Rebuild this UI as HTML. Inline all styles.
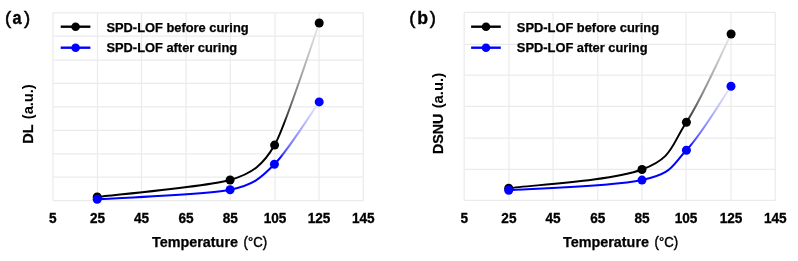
<!DOCTYPE html>
<html><head><meta charset="utf-8"><style>
html,body{margin:0;padding:0;background:#fff;}
svg{display:block;filter:blur(0.3px);}
text{font-family:"Liberation Sans",sans-serif;font-weight:bold;fill:#000;}
</style></head><body>
<svg width="798" height="261" viewBox="0 0 798 261">
<rect width="798" height="261" fill="#fff"/>
<g stroke="#ebebeb" stroke-width="1.2">
<line x1="52.90" y1="12.80" x2="52.90" y2="200.60"/>
<line x1="97.50" y1="12.80" x2="97.50" y2="200.60"/>
<line x1="141.50" y1="12.80" x2="141.50" y2="200.60"/>
<line x1="186.10" y1="12.80" x2="186.10" y2="200.60"/>
<line x1="230.30" y1="12.80" x2="230.30" y2="200.60"/>
<line x1="275.00" y1="12.80" x2="275.00" y2="200.60"/>
<line x1="319.00" y1="12.80" x2="319.00" y2="200.60"/>
<line x1="363.30" y1="12.80" x2="363.30" y2="200.60"/>
<line x1="52.90" y1="12.80" x2="363.30" y2="12.80"/>
<line x1="52.90" y1="36.10" x2="363.30" y2="36.10"/>
<line x1="52.90" y1="60.10" x2="363.30" y2="60.10"/>
<line x1="52.90" y1="83.30" x2="363.30" y2="83.30"/>
<line x1="52.90" y1="106.80" x2="363.30" y2="106.80"/>
<line x1="52.90" y1="130.40" x2="363.30" y2="130.40"/>
<line x1="52.90" y1="153.80" x2="363.30" y2="153.80"/>
<line x1="52.90" y1="177.20" x2="363.30" y2="177.20"/>
<line x1="52.90" y1="200.60" x2="363.30" y2="200.60"/>
</g>
<linearGradient id="gl0" gradientUnits="userSpaceOnUse" x1="319.20" y1="197.00" x2="319.20" y2="23.00"><stop offset="0" stop-color="#000000"/><stop offset="0.42" stop-color="#000000"/><stop offset="0.468" stop-color="#444444"/><stop offset="0.517" stop-color="#606060"/><stop offset="0.565" stop-color="#767676"/><stop offset="0.613" stop-color="#888888"/><stop offset="0.662" stop-color="#989898"/><stop offset="0.710" stop-color="#a6a6a6"/><stop offset="0.758" stop-color="#b3b3b3"/><stop offset="0.807" stop-color="#c0c0c0"/><stop offset="0.855" stop-color="#cccccc"/><stop offset="0.903" stop-color="#d7d7d7"/><stop offset="0.952" stop-color="#e1e1e1"/><stop offset="1.000" stop-color="#ebebeb"/></linearGradient>
<path d="M97.20,197.00 C113.81,194.88 207.92,186.49 230.10,180.00 C252.28,173.51 263.46,164.72 274.60,145.10 C285.74,125.47 313.62,38.26 319.20,23.00" fill="none" stroke="url(#gl0)" stroke-width="2.0"/>
<linearGradient id="gl1" gradientUnits="userSpaceOnUse" x1="319.20" y1="199.30" x2="319.20" y2="101.90"><stop offset="0" stop-color="#0000ff"/><stop offset="0.42" stop-color="#0000ff"/><stop offset="0.468" stop-color="#4444ff"/><stop offset="0.517" stop-color="#6060ff"/><stop offset="0.565" stop-color="#7676ff"/><stop offset="0.613" stop-color="#8888ff"/><stop offset="0.662" stop-color="#9898ff"/><stop offset="0.710" stop-color="#a6a6ff"/><stop offset="0.758" stop-color="#b3b3ff"/><stop offset="0.807" stop-color="#c0c0ff"/><stop offset="0.855" stop-color="#ccccff"/><stop offset="0.903" stop-color="#d7d7ff"/><stop offset="0.952" stop-color="#e1e1ff"/><stop offset="1.000" stop-color="#ebebff"/></linearGradient>
<path d="M97.20,199.30 C116.03,197.94 205.00,194.66 230.10,189.70 C255.20,184.74 261.78,176.74 274.40,164.30 C287.02,151.86 312.85,110.74 319.20,101.90" fill="none" stroke="url(#gl1)" stroke-width="2.0"/>
<circle cx="97.20" cy="197.00" r="4.5" fill="#000000"/>
<circle cx="230.10" cy="180.00" r="4.5" fill="#000000"/>
<circle cx="274.60" cy="145.10" r="4.5" fill="#000000"/>
<circle cx="319.20" cy="23.00" r="4.5" fill="#000000"/>
<circle cx="97.20" cy="199.30" r="4.5" fill="#0000ff"/>
<circle cx="230.10" cy="189.70" r="4.5" fill="#0000ff"/>
<circle cx="274.40" cy="164.30" r="4.5" fill="#0000ff"/>
<circle cx="319.20" cy="101.90" r="4.5" fill="#0000ff"/>
<g stroke="#ebebeb" stroke-width="1.2">
<line x1="464.20" y1="12.30" x2="464.20" y2="200.40"/>
<line x1="508.90" y1="12.30" x2="508.90" y2="200.40"/>
<line x1="553.05" y1="12.30" x2="553.05" y2="200.40"/>
<line x1="597.80" y1="12.30" x2="597.80" y2="200.40"/>
<line x1="642.05" y1="12.30" x2="642.05" y2="200.40"/>
<line x1="686.00" y1="12.30" x2="686.00" y2="200.40"/>
<line x1="731.00" y1="12.30" x2="731.00" y2="200.40"/>
<line x1="775.30" y1="12.30" x2="775.30" y2="200.40"/>
<line x1="464.20" y1="12.30" x2="775.30" y2="12.30"/>
<line x1="464.20" y1="44.30" x2="775.30" y2="44.30"/>
<line x1="464.20" y1="75.10" x2="775.30" y2="75.10"/>
<line x1="464.20" y1="106.40" x2="775.30" y2="106.40"/>
<line x1="464.20" y1="138.20" x2="775.30" y2="138.20"/>
<line x1="464.20" y1="169.40" x2="775.30" y2="169.40"/>
<line x1="464.20" y1="200.40" x2="775.30" y2="200.40"/>
</g>
<linearGradient id="gr0" gradientUnits="userSpaceOnUse" x1="731.10" y1="188.30" x2="731.10" y2="34.00"><stop offset="0" stop-color="#000000"/><stop offset="0.42" stop-color="#000000"/><stop offset="0.468" stop-color="#444444"/><stop offset="0.517" stop-color="#606060"/><stop offset="0.565" stop-color="#767676"/><stop offset="0.613" stop-color="#888888"/><stop offset="0.662" stop-color="#989898"/><stop offset="0.710" stop-color="#a6a6a6"/><stop offset="0.758" stop-color="#b3b3b3"/><stop offset="0.807" stop-color="#c0c0c0"/><stop offset="0.855" stop-color="#cccccc"/><stop offset="0.903" stop-color="#d7d7d7"/><stop offset="0.952" stop-color="#e1e1e1"/><stop offset="1.000" stop-color="#ebebeb"/></linearGradient>
<path d="M508.70,188.30 C532.03,185.01 610.90,181.07 642.00,169.50 C673.10,157.93 670.81,145.91 686.40,122.20 C701.99,98.49 723.28,49.44 731.10,34.00" fill="none" stroke="url(#gr0)" stroke-width="2.0"/>
<linearGradient id="gr1" gradientUnits="userSpaceOnUse" x1="731.00" y1="190.20" x2="731.00" y2="86.30"><stop offset="0" stop-color="#0000ff"/><stop offset="0.42" stop-color="#0000ff"/><stop offset="0.468" stop-color="#4444ff"/><stop offset="0.517" stop-color="#6060ff"/><stop offset="0.565" stop-color="#7676ff"/><stop offset="0.613" stop-color="#8888ff"/><stop offset="0.662" stop-color="#9898ff"/><stop offset="0.710" stop-color="#a6a6ff"/><stop offset="0.758" stop-color="#b3b3ff"/><stop offset="0.807" stop-color="#c0c0ff"/><stop offset="0.855" stop-color="#ccccff"/><stop offset="0.903" stop-color="#d7d7ff"/><stop offset="0.952" stop-color="#e1e1ff"/><stop offset="1.000" stop-color="#ebebff"/></linearGradient>
<path d="M508.70,190.20 C532.03,188.43 610.90,187.08 642.00,180.10 C673.10,173.12 670.82,166.72 686.40,150.30 C701.98,133.89 723.20,97.50 731.00,86.30" fill="none" stroke="url(#gr1)" stroke-width="2.0"/>
<circle cx="508.70" cy="188.30" r="4.5" fill="#000000"/>
<circle cx="642.00" cy="169.50" r="4.5" fill="#000000"/>
<circle cx="686.40" cy="122.20" r="4.5" fill="#000000"/>
<circle cx="731.10" cy="34.00" r="4.5" fill="#000000"/>
<circle cx="508.70" cy="190.20" r="4.5" fill="#0000ff"/>
<circle cx="642.00" cy="180.10" r="4.5" fill="#0000ff"/>
<circle cx="686.40" cy="150.30" r="4.5" fill="#0000ff"/>
<circle cx="731.00" cy="86.30" r="4.5" fill="#0000ff"/>
<line x1="60.70" y1="26.7" x2="90.40" y2="26.7" stroke="#000000" stroke-width="2.4"/>
<circle cx="75.60" cy="26.7" r="4.3" fill="#000000"/>
<text x="106.43" y="31.50" font-size="12.4" textLength="142.23" lengthAdjust="spacingAndGlyphs" stroke="#000" stroke-width="0.25">SPD-LOF before curing</text>
<line x1="60.70" y1="47.7" x2="90.40" y2="47.7" stroke="#0000ff" stroke-width="2.4"/>
<circle cx="75.60" cy="47.7" r="4.3" fill="#0000ff"/>
<text x="106.43" y="52.30" font-size="12.4" textLength="130.73" lengthAdjust="spacingAndGlyphs" stroke="#000" stroke-width="0.25">SPD-LOF after curing</text>
<line x1="471.10" y1="26.7" x2="500.80" y2="26.7" stroke="#000000" stroke-width="2.4"/>
<circle cx="486.00" cy="26.7" r="4.3" fill="#000000"/>
<text x="516.83" y="31.50" font-size="12.4" textLength="142.23" lengthAdjust="spacingAndGlyphs" stroke="#000" stroke-width="0.25">SPD-LOF before curing</text>
<line x1="471.10" y1="47.7" x2="500.80" y2="47.7" stroke="#0000ff" stroke-width="2.4"/>
<circle cx="486.00" cy="47.7" r="4.3" fill="#0000ff"/>
<text x="516.83" y="52.30" font-size="12.4" textLength="130.73" lengthAdjust="spacingAndGlyphs" stroke="#000" stroke-width="0.25">SPD-LOF after curing</text>
<text transform="translate(52.90,222.8) scale(1,1.13)" font-size="13.6" text-anchor="middle" stroke="#000" stroke-width="0.3">5</text>
<text transform="translate(97.50,222.8) scale(1,1.13)" font-size="13.6" text-anchor="middle" stroke="#000" stroke-width="0.3">25</text>
<text transform="translate(141.50,222.8) scale(1,1.13)" font-size="13.6" text-anchor="middle" stroke="#000" stroke-width="0.3">45</text>
<text transform="translate(186.10,222.8) scale(1,1.13)" font-size="13.6" text-anchor="middle" stroke="#000" stroke-width="0.3">65</text>
<text transform="translate(230.30,222.8) scale(1,1.13)" font-size="13.6" text-anchor="middle" stroke="#000" stroke-width="0.3">85</text>
<text transform="translate(275.00,222.8) scale(1,1.13)" font-size="13.6" text-anchor="middle" stroke="#000" stroke-width="0.3">105</text>
<text transform="translate(319.00,222.8) scale(1,1.13)" font-size="13.6" text-anchor="middle" stroke="#000" stroke-width="0.3">125</text>
<text transform="translate(363.30,222.8) scale(1,1.13)" font-size="13.6" text-anchor="middle" stroke="#000" stroke-width="0.3">145</text>
<text transform="translate(464.20,222.8) scale(1,1.13)" font-size="13.6" text-anchor="middle" stroke="#000" stroke-width="0.3">5</text>
<text transform="translate(508.90,222.8) scale(1,1.13)" font-size="13.6" text-anchor="middle" stroke="#000" stroke-width="0.3">25</text>
<text transform="translate(553.05,222.8) scale(1,1.13)" font-size="13.6" text-anchor="middle" stroke="#000" stroke-width="0.3">45</text>
<text transform="translate(597.80,222.8) scale(1,1.13)" font-size="13.6" text-anchor="middle" stroke="#000" stroke-width="0.3">65</text>
<text transform="translate(642.05,222.8) scale(1,1.13)" font-size="13.6" text-anchor="middle" stroke="#000" stroke-width="0.3">85</text>
<text transform="translate(686.00,222.8) scale(1,1.13)" font-size="13.6" text-anchor="middle" stroke="#000" stroke-width="0.3">105</text>
<text transform="translate(731.00,222.8) scale(1,1.13)" font-size="13.6" text-anchor="middle" stroke="#000" stroke-width="0.3">125</text>
<text transform="translate(775.30,222.8) scale(1,1.13)" font-size="13.6" text-anchor="middle" stroke="#000" stroke-width="0.3">145</text>
<text x="5.05" y="24.2" font-size="18.5" style="font-weight:normal" stroke="#000" stroke-width="0.55">(</text>
<text x="12.52" y="24.00" font-size="17.6" textLength="9.07" lengthAdjust="spacingAndGlyphs" stroke="#000" stroke-width="0.35">a</text>
<text x="24.09" y="24.2" font-size="18.5" style="font-weight:normal" stroke="#000" stroke-width="0.55">)</text>
<text x="409.25" y="24.2" font-size="18.5" style="font-weight:normal" stroke="#000" stroke-width="0.55">(</text>
<text x="417.34" y="24.40" font-size="18.3" textLength="10.79" lengthAdjust="spacingAndGlyphs" stroke="#000" stroke-width="0.35">b</text>
<text x="429.7" y="24.2" font-size="18.5" style="font-weight:normal" stroke="#000" stroke-width="0.55">)</text>
<text x="152.04" y="246.60" font-size="14.3" textLength="85.94" lengthAdjust="spacingAndGlyphs" stroke="#000" stroke-width="0.25">Temperature</text>
<text x="243.58" y="246.60" font-size="14.3" textLength="23.53" lengthAdjust="spacingAndGlyphs" stroke="#000" stroke-width="0.45" style="font-weight:normal">(°C)</text>
<text x="563.04" y="246.60" font-size="14.3" textLength="85.94" lengthAdjust="spacingAndGlyphs" stroke="#000" stroke-width="0.25">Temperature</text>
<text x="654.58" y="246.60" font-size="14.3" textLength="23.53" lengthAdjust="spacingAndGlyphs" stroke="#000" stroke-width="0.45" style="font-weight:normal">(°C)</text>
<text transform="translate(32.60,143.78) rotate(-90)" font-size="15" textLength="19.53" lengthAdjust="spacingAndGlyphs" stroke="#000" stroke-width="0.25">DL</text>
<text transform="translate(32.60,119.23) rotate(-90)" font-size="14.8" textLength="34.85" lengthAdjust="spacingAndGlyphs">(a.u.)</text>
<text transform="translate(443.00,154.05) rotate(-90)" font-size="15" textLength="40.22" lengthAdjust="spacingAndGlyphs" stroke="#000" stroke-width="0.25">DSNU</text>
<text transform="translate(443.00,108.34) rotate(-90)" font-size="14.8" textLength="35.48" lengthAdjust="spacingAndGlyphs">(a.u.)</text>
</svg>
</body></html>
